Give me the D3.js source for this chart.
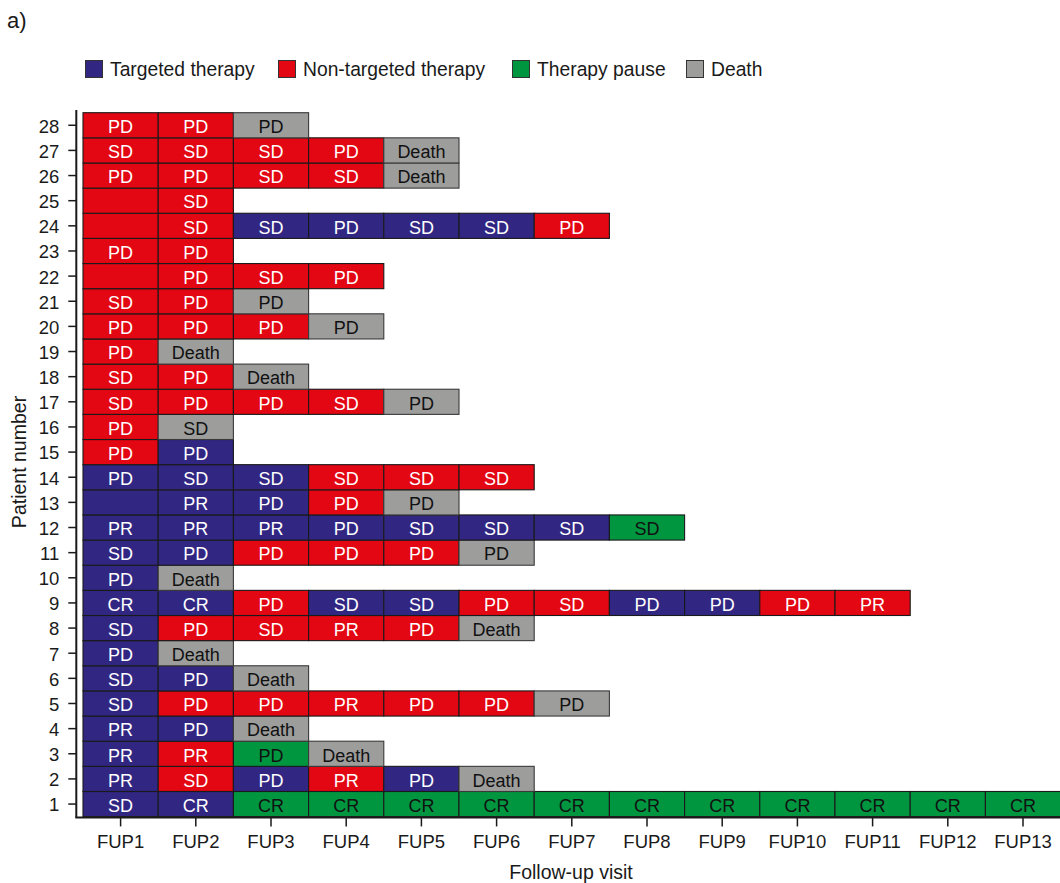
<!DOCTYPE html>
<html>
<head>
<meta charset="utf-8">
<script src="https://cdn.jsdelivr.net/npm/d3@7/dist/d3.min.js"></script>
<style>
  html, body { margin: 0; padding: 0; background: #fff; }
  svg { display: block; font-family: "Liberation Sans", Arial, Helvetica, sans-serif; }
</style>
</head>
<body>
<svg id="chart" width="1060" height="883"></svg>
<script>
// Follow-up visits and patients
const visits = ["FUP1","FUP2","FUP3","FUP4","FUP5","FUP6","FUP7","FUP8","FUP9","FUP10","FUP11","FUP12","FUP13"];
const patients = d3.range(1, 29);

// Therapy at each visit, per patient (index 0 = patient 1)
// T = targeted, N = non-targeted, P = therapy pause, D = death
const therapy = [
  ["T","T","P","P","P","P","P","P","P","P","P","P","P"],
  ["T","N","T","N","T","D"],
  ["T","N","P","D"],
  ["T","T","D"],
  ["T","N","N","N","N","N","D"],
  ["T","T","D"],
  ["T","D"],
  ["T","N","N","N","N","D"],
  ["T","T","N","T","T","N","N","T","T","N","N"],
  ["T","D"],
  ["T","T","N","N","N","D"],
  ["T","T","T","T","T","T","T","P"],
  ["T","T","T","N","D"],
  ["T","T","T","N","N","N"],
  ["N","T"],
  ["N","D"],
  ["N","N","N","N","D"],
  ["N","N","D"],
  ["N","D"],
  ["N","N","N","D"],
  ["N","N","D"],
  ["N","N","N","N"],
  ["N","N"],
  ["N","N","T","T","T","T","N"],
  ["N","N"],
  ["N","N","N","N","D"],
  ["N","N","N","N","D"],
  ["N","N","D"]
];

// Response assessed at each visit, per patient
const response = [
  ["SD","CR","CR","CR","CR","CR","CR","CR","CR","CR","CR","CR","CR"],
  ["PR","SD","PD","PR","PD","Death"],
  ["PR","PR","PD","Death"],
  ["PR","PD","Death"],
  ["SD","PD","PD","PR","PD","PD","PD"],
  ["SD","PD","Death"],
  ["PD","Death"],
  ["SD","PD","SD","PR","PD","Death"],
  ["CR","CR","PD","SD","SD","PD","SD","PD","PD","PD","PR"],
  ["PD","Death"],
  ["SD","PD","PD","PD","PD","PD"],
  ["PR","PR","PR","PD","SD","SD","SD","SD"],
  ["","PR","PD","PD","PD"],
  ["PD","SD","SD","SD","SD","SD"],
  ["PD","PD"],
  ["PD","SD"],
  ["SD","PD","PD","SD","PD"],
  ["SD","PD","Death"],
  ["PD","Death"],
  ["PD","PD","PD","PD"],
  ["SD","PD","PD"],
  ["","PD","SD","PD"],
  ["PD","PD"],
  ["","SD","SD","PD","SD","SD","PD"],
  ["","SD"],
  ["PD","PD","SD","SD","Death"],
  ["SD","SD","SD","PD","Death"],
  ["PD","PD","PD"]
];

const legendKeys = ["T","N","P","D"];
const legendLabels = ["Targeted therapy","Non-targeted therapy","Therapy pause","Death"];

const fillColor = d3.scaleOrdinal().domain(legendKeys).range(["#312783","#e30613","#009640","#9d9d9c"]);
const textColor = d3.scaleOrdinal().domain(legendKeys).range(["#ffffff","#ffffff","#111111","#111111"]);
const strokeColor = d3.scaleOrdinal().domain(legendKeys).range(["#1a1a1a","#1a1a1a","#1a1a1a","#3a3a3a"]);

const svg = d3.select("#chart");

const plotLeft = 83, plotTop = 112.7, cellW = 75.2, cellH = 25.14;
const x = d3.scaleBand().domain(visits).range([plotLeft, plotLeft + visits.length * cellW]).padding(0);
const y = d3.scaleBand().domain(patients.slice().reverse()).range([plotTop, plotTop + patients.length * cellH]).padding(0);
const axisX = 76.3, axisY = plotTop + patients.length * cellH + 0.8;

// Cells
const cells = [];
patients.forEach((p, i) => {
  therapy[i].forEach((t, j) => {
    cells.push({ patient: p, visit: visits[j], therapy: t, label: response[i][j] });
  });
});

const g = svg.append("g");
g.selectAll("rect.cell").data(cells).join("rect")
  .attr("class", "cell")
  .attr("x", d => x(d.visit))
  .attr("y", d => y(d.patient))
  .attr("width", x.bandwidth())
  .attr("height", y.bandwidth())
  .attr("fill", d => fillColor(d.therapy))
  .attr("stroke", d => strokeColor(d.therapy))
  .attr("stroke-width", 1.1);

g.selectAll("text.cell-label").data(cells.filter(d => d.label)).join("text")
  .attr("class", "cell-label")
  .attr("x", d => x(d.visit) + x.bandwidth() / 2)
  .attr("y", d => y(d.patient) + y.bandwidth() / 2)
  .attr("dy", "0.43em")
  .attr("text-anchor", "middle")
  .attr("font-size", 18)
  .attr("fill", d => textColor(d.therapy))
  .text(d => d.label);

// Axes
const yAxis = d3.axisLeft(y).tickSize(8).tickSizeOuter(0);
const yG = svg.append("g").attr("transform", `translate(${axisX},0)`).call(yAxis);
yG.select(".domain").remove();
yG.selectAll(".tick line").attr("stroke", "#1a1a1a").attr("stroke-width", 1.5);
yG.selectAll(".tick text").attr("font-size", 18.5).attr("fill", "#1a1a1a").attr("x", -17).attr("dy", "0.4em")
  .attr("font-family", "Liberation Sans, Arial, sans-serif");

const xAxis = d3.axisBottom(x).tickSize(9).tickSizeOuter(0);
const xG = svg.append("g").attr("transform", `translate(0,${axisY})`).call(xAxis);
xG.select(".domain").remove();
xG.selectAll(".tick line").attr("stroke", "#1a1a1a").attr("stroke-width", 1.5);
xG.selectAll(".tick text").attr("font-size", 18.5).attr("fill", "#1a1a1a").attr("y", 17)
  .attr("font-family", "Liberation Sans, Arial, sans-serif");

svg.append("line").attr("x1", axisX).attr("x2", axisX).attr("y1", 110).attr("y2", axisY)
  .attr("stroke", "#1a1a1a").attr("stroke-width", 2);
svg.append("line").attr("x1", axisX - 1).attr("x2", 1060).attr("y1", axisY).attr("y2", axisY)
  .attr("stroke", "#1a1a1a").attr("stroke-width", 2);

// Axis titles
svg.append("text").attr("x", 571).attr("y", 879).attr("text-anchor", "middle")
  .attr("font-size", 19.5).attr("fill", "#1a1a1a").text("Follow-up visit");
svg.append("text").attr("transform", "translate(26,462) rotate(-90)").attr("text-anchor", "middle")
  .attr("font-size", 19.5).attr("fill", "#1a1a1a").text("Patient number");

// Panel label
svg.append("text").attr("x", 7).attr("y", 28).attr("font-size", 22).attr("fill", "#1a1a1a").text("a)");

// Legend
const legendX = [85, 278, 512, 686];
const legend = svg.append("g").attr("transform", "translate(0,60)");
legendKeys.forEach((k, i) => {
  const item = legend.append("g").attr("transform", `translate(${legendX[i]},0)`);
  item.append("rect").attr("x", 0.5).attr("y", 0.5).attr("width", 17).attr("height", 17)
    .attr("fill", fillColor(k)).attr("stroke", "#333").attr("stroke-width", 1);
  item.append("text").attr("x", 25).attr("y", 9).attr("dy", "0.38em")
    .attr("font-size", 19.3).attr("fill", "#1a1a1a").text(legendLabels[i]);
});
</script>
</body>
</html>
